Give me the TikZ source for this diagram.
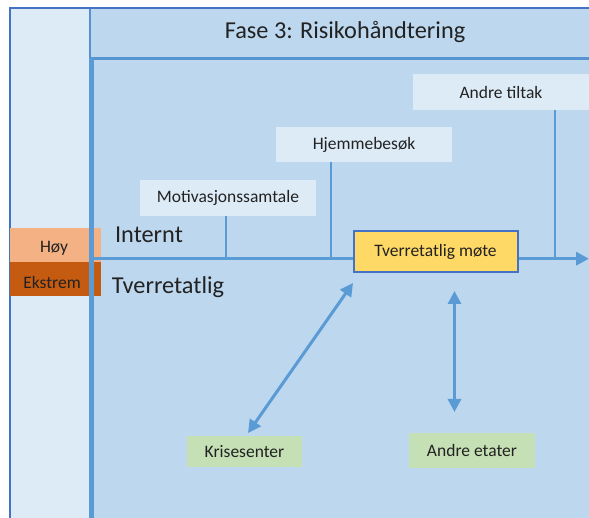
\documentclass[tikz,border=0pt]{standalone}
\usepackage{fontspec}
\setmainfont{Carlito}
\usetikzlibrary{arrows.meta}
\definecolor{mainfill}{HTML}{BDD7EE}
\definecolor{lightfill}{HTML}{DDEBF7}
\definecolor{linec}{HTML}{5B9BD5}
\definecolor{borderc}{HTML}{4472C4}
\definecolor{yellowf}{HTML}{FFD966}
\definecolor{orangel}{HTML}{F4B183}
\definecolor{oranged}{HTML}{C55A11}
\definecolor{greenf}{HTML}{C5E0B4}
\definecolor{txt}{HTML}{222222}
\tikzset{
  lbl/.style={text=txt, font=\fontsize{17.5}{20}\selectfont, inner sep=0pt, anchor=center},
  lightbox/.style={fill=lightfill, draw=none, inner sep=0pt},
  greenbox/.style={fill=greenf, draw=none, inner sep=0pt},
  conn/.style={draw=linec, line width=2.6pt},
  tip/.style={Triangle[length=13pt,width=13pt]},
  dbl/.style={draw=linec, line width=3pt, {Triangle[length=13pt,width=13pt]}-{Triangle[length=13pt,width=13pt]}},
  big/.style={text=txt, font=\fontsize{24.3}{28}\selectfont, inner sep=0pt, anchor=center}
}
\begin{document}
\begin{tikzpicture}[x=1pt,y=-1pt]
\useasboundingbox (0,0) rectangle (589,518);
\fill[white] (0,0) rectangle (589,518);
% outer frame and left column
\fill[lightfill] (10,8) rectangle (91,518);
\fill[mainfill] (91,8) rectangle (589,518);
\draw[borderc, line width=1.8pt] (10,518) -- (10,8) -- (589,8);
% header
\draw[linec!75!borderc, line width=2pt] (90,9) -- (90,58);
\draw[linec!85!borderc, line width=3.2pt] (91,58.5) -- (589,58.5);
\node[big] (title) at (345,32) {Fase 3: Risikohåndtering};
% level boxes
\node[fill=orangel, minimum width=91pt, minimum height=34pt, inner sep=0pt, anchor=north west] (hoy) at (10,228) {};
\node[lbl] (hoyt) at (54,248) {Høy};
\node[fill=oranged, minimum width=91pt, minimum height=34pt, inner sep=0pt, anchor=north west] (eks) at (10,262) {};
\node[lbl] (ekst) at (52,282) {Ekstrem};
% main left border
\draw[linec, line width=4.5pt] (91.5,58) -- (91.5,518);
% labels
\node[big] (internt) at (149,235) {Internt};
\node[big] (tverr) at (168,287) {Tverretatlig};
% top boxes
\node[lightbox, minimum width=176pt, minimum height=36pt] (andre) at (501,92) {};
\node[lbl] at (andre) {Andre tiltak};
\node[lightbox, minimum width=176pt, minimum height=35pt] (hjem) at (364,145) {};
\node[lbl] at (hjem) {Hjemmebesøk};
\node[lightbox, minimum width=176pt, minimum height=36pt] (motiv) at (228,198) {};
\node[lbl] at (motiv) {Motivasjonssamtale};
% main line
\coordinate (hs) at (93,258.7);
\coordinate (he) at (589,258.7);
\draw[conn] (226,216) -- (226,259);
\draw[conn] (331,162) -- (331,259);
\draw[conn] (555,110) -- (555,259);
\draw[draw=linec, line width=3.6pt, -{Triangle[length=13pt,width=13pt]}] (hs) -- (he);
% meeting
\node[fill=yellowf, draw=borderc, line width=2pt, minimum width=164pt, minimum height=41pt, inner sep=0pt] (mote) at (435.5,252) {};
\node[lbl] at (mote) {Tverretatlig møte};
% bottom boxes
\node[greenbox, minimum width=115pt, minimum height=31pt] (krise) at (244.5,451.5) {};
\node[lbl] at (krise) {Krisesenter};
\node[greenbox, minimum width=126pt, minimum height=35pt] (etat) at (472,450.5) {};
\node[lbl] at (etat) {Andre etater};
% double arrows
\coordinate (a1) at (353,283);
\coordinate (a2) at (248,433);
\draw[dbl] (a1) -- (a2);
\coordinate (b1) at (454.5,291);
\coordinate (b2) at (454.5,412);
\draw[dbl] (b1) -- (b2);
\end{tikzpicture}
\end{document}
